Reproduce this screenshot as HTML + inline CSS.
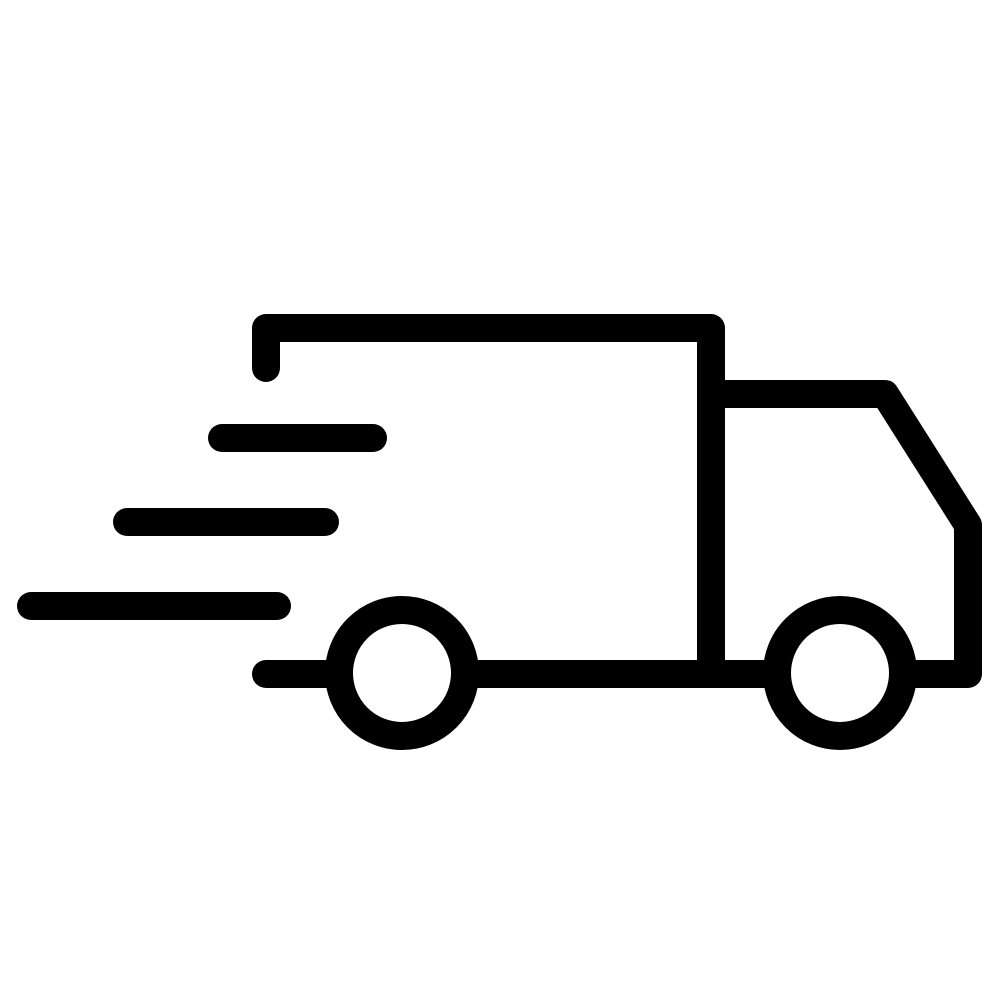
<!DOCTYPE html>
<html><head><meta charset="utf-8"><style>html,body{margin:0;padding:0;background:#fff}svg{display:block}</style></head>
<body>
<svg width="1000" height="1000" viewBox="0 0 1000 1000" xmlns="http://www.w3.org/2000/svg">
<g fill="none" stroke="#000" stroke-width="28" stroke-linecap="round" stroke-linejoin="round">
<path d="M266 368 V328 H711 V674"/>
<path d="M711 394 H885 L968 525 V674 H912"/>
<path d="M266 674 H338"/>
<path d="M466 674 H776"/>
<circle cx="402" cy="673" r="63"/>
<circle cx="840" cy="673" r="63"/>
<path d="M222 438 H373"/>
<path d="M127 522 H325"/>
<path d="M31 606 H277"/>
</g>
</svg>
</body></html>
